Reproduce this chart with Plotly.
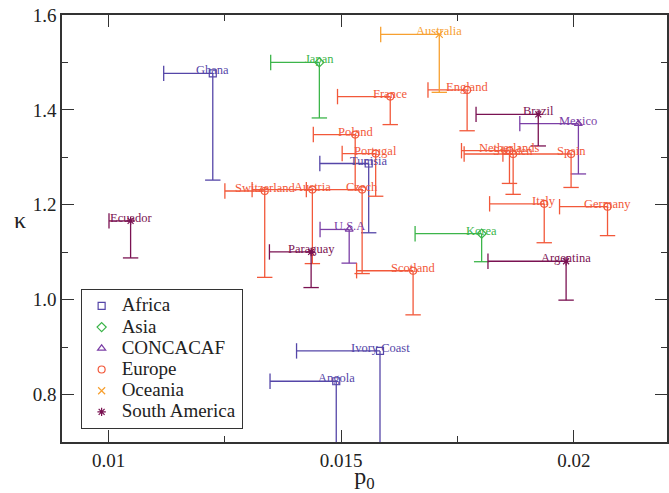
import plotly.graph_objects as go

# ---------------- data ----------------
groups = ["Africa", "Asia", "CONCACAF", "Europe", "Oceania", "South America"]

africa_names = ["Ghana", "Tunisia", "Ivory Coast", "Angola"]
africa_p0 = [0.01224, 0.01559, 0.015833, 0.014893]
africa_kappa = [1.477, 1.287, 0.892, 0.828]
africa_p0_lo = [0.011185, 0.01454, 0.01404, 0.01347]
africa_kappa_lo = [1.252, 1.141, 0.62, 0.62]

asia_names = ["Japan", "Korea"]
asia_p0 = [0.01453, 0.018017]
asia_kappa = [1.500, 1.139]
asia_p0_lo = [0.013484, 0.016587]
asia_kappa_lo = [1.383, 1.080]

concacaf_names = ["Mexico", "U.S.A"]
concacaf_p0 = [0.020096, 0.015171]
concacaf_kappa = [1.371, 1.148]
concacaf_p0_lo = [0.018837, 0.014545]
concacaf_kappa_lo = [1.265, 1.077]

europe_names = ["France", "England", "Poland", "Portugal", "Netherlands", "Sweden",
                "Spain", "Switzerland", "Austria", "Czech", "Italy", "Germany", "Scotland"]
europe_p0 = [0.016053, 0.017705, 0.0153, 0.01574, 0.018615, 0.018694,
             0.019939, 0.013356, 0.01438, 0.015449, 0.019362, 0.020722, 0.016544]
europe_kappa = [1.428, 1.442, 1.348, 1.308, 1.314, 1.307,
                1.307, 1.229, 1.232, 1.232, 1.202, 1.196, 1.061]
europe_p0_lo = [0.01492, 0.016864, 0.0144, 0.01502, 0.017584, 0.017641,
                0.018474, 0.0125, 0.013085, 0.01425, 0.018188, 0.019691, 0.01533]
europe_kappa_lo = [1.369, 1.356, 1.232, 1.218, 1.245, 1.222,
                   1.2365, 1.047, 1.076, 1.055, 1.120, 1.135, 0.968]

oceania_names = ["Australia"]
oceania_p0 = [0.017107]
oceania_kappa = [1.559]
oceania_p0_lo = [0.015848]
oceania_kappa_lo = [1.437]

samerica_names = ["Brazil", "Argentina", "Paraguay", "Ecuador"]
samerica_p0 = [0.019234, 0.019832, 0.014353, 0.010474]
samerica_kappa = [1.3905, 1.081, 1.1006, 1.166]
samerica_p0_lo = [0.017897, 0.018153, 0.013457, 0.01001]
samerica_kappa_lo = [1.324, 0.999, 1.0255, 1.088]

x_ticks = [0.01, 0.015, 0.02]
x_tick_labels = ["0.01", "0.015", "0.02"]
y_ticks = [0.8, 1.0, 1.2, 1.4, 1.6]
y_tick_labels = ["0.8", "1.0", "1.2", "1.4", "1.6"]

# ---------------- styles ----------------
colors = {
    "Africa": "#5546a8",
    "Asia": "#3cb54a",
    "CONCACAF": "#7b3fa6",
    "Europe": "#f2583a",
    "Oceania": "#f7a030",
    "South America": "#7a1252",
}
symbols = {
    "Africa": "square-open",
    "Asia": "diamond-open",
    "CONCACAF": "triangle-up-open",
    "Europe": "circle-open",
    "Oceania": "x-thin-open",
    "South America": "asterisk-open",
}
data = {
    "Africa": (africa_names, africa_p0, africa_kappa, africa_p0_lo, africa_kappa_lo),
    "Asia": (asia_names, asia_p0, asia_kappa, asia_p0_lo, asia_kappa_lo),
    "CONCACAF": (concacaf_names, concacaf_p0, concacaf_kappa, concacaf_p0_lo, concacaf_kappa_lo),
    "Europe": (europe_names, europe_p0, europe_kappa, europe_p0_lo, europe_kappa_lo),
    "Oceania": (oceania_names, oceania_p0, oceania_kappa, oceania_p0_lo, oceania_kappa_lo),
    "South America": (samerica_names, samerica_p0, samerica_kappa, samerica_p0_lo, samerica_kappa_lo),
}

SERIF = "Liberation Serif, Times New Roman, serif"
fig = go.Figure()
annotations = []

for g in groups:
    names, px, py, pxl, pyl = data[g]
    c = colors[g]
    lx, ly = [], []
    for xv, yv, xl, yl in zip(px, py, pxl, pyl):
        lx += [xl, xv, None, xv, xv, None]
        ly += [yv, yv, None, yv, yl, None]
    fig.add_trace(go.Scatter(x=lx, y=ly, mode="lines", line=dict(color=c, width=1.3),
                             showlegend=False, hoverinfo="skip"))
    # caps at the far ends
    fig.add_trace(go.Scatter(x=pxl, y=py, mode="markers", showlegend=False, hoverinfo="skip",
                             marker=dict(symbol="line-ns", size=11, line=dict(color=c, width=1.3))))
    fig.add_trace(go.Scatter(x=px, y=pyl, mode="markers", showlegend=False, hoverinfo="skip",
                             marker=dict(symbol="line-ew", size=11, line=dict(color=c, width=1.3))))
    for n, xv, yv in zip(names, px, py):
        annotations.append(dict(x=xv, y=yv, xref="x", yref="y", text=n, showarrow=False,
                                xanchor="center", yanchor="middle", yshift=3,
                                font=dict(family=SERIF, size=12.5, color=c)))

for g in groups:
    names, px, py, pxl, pyl = data[g]
    c = colors[g]
    fig.add_trace(go.Scatter(x=px, y=py, mode="markers",
                             name='<span style="font-size:19px">' + g + '</span>',
                             marker=dict(symbol=symbols[g], size=7, color=c,
                                         line=dict(color=c, width=1.2))))

annotations.append(dict(x=-0.07, y=0.52, xref="paper", yref="paper", text="κ",
                        showarrow=False, xanchor="center", yanchor="middle",
                        font=dict(family=SERIF, size=24, color="#222")))

axis_common = dict(showline=True, linecolor="#333", linewidth=1.6, mirror="allticks",
                   ticks="inside", ticklen=12, tickwidth=1.2, tickcolor="#333",
                   showgrid=False, zeroline=False,
                   tickfont=dict(family=SERIF, size=19, color="#222"))

fig.update_layout(
    width=669, height=493,
    margin=dict(l=62, r=0, t=15, b=51),
    paper_bgcolor="white", plot_bgcolor="white",
    xaxis=dict(range=[0.009, 0.022], tickvals=x_ticks, ticktext=x_tick_labels,
               minor=dict(dtick=0.0025, tick0=0.0075, ticks="inside", ticklen=6,
                          tickcolor="#333", tickwidth=1.2),
               title=dict(text="p<sub>0</sub>", font=dict(family=SERIF, size=24, color="#222"),
                          standoff=3),
               **axis_common),
    yaxis=dict(range=[0.7, 1.6], tickvals=y_ticks, ticktext=y_tick_labels,
               minor=dict(dtick=0.1, tick0=0.7, ticks="inside", ticklen=6,
                          tickcolor="#333", tickwidth=1.2),
               **axis_common),
    legend=dict(x=0.0308, y=0.3576, xanchor="left", yanchor="top",
                bgcolor="white", bordercolor="#333", borderwidth=1,
                font=dict(family=SERIF, size=14, color="#222"),
                tracegroupgap=0),
    annotations=annotations,
)

fig.write_html("out.html")
